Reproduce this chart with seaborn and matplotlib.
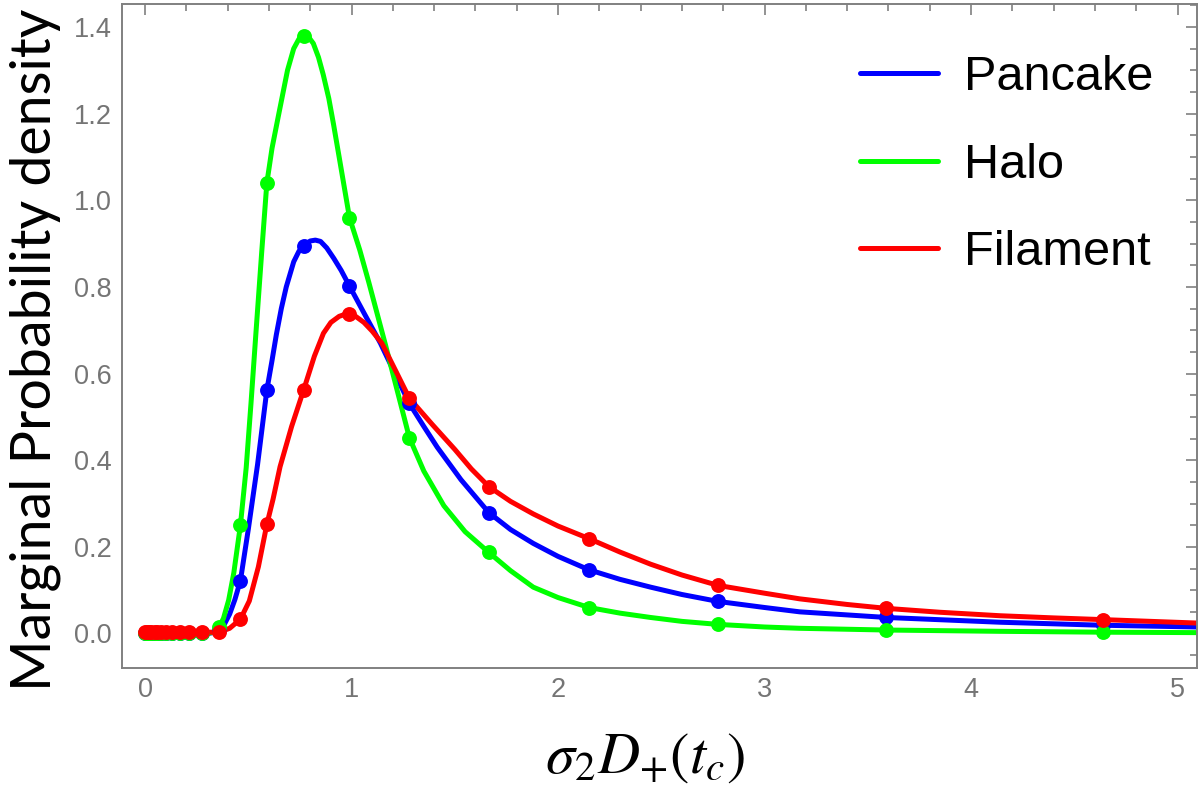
import numpy as np
import pandas as pd
import matplotlib
matplotlib.use("Agg")
import matplotlib.pyplot as plt
import seaborn as sns
from matplotlib.ticker import MultipleLocator

dot_x = [0.0, 0.01, 0.02, 0.03, 0.046, 0.06, 0.077, 0.1, 0.129, 0.167, 0.215, 0.278,
         0.359, 0.462, 0.59, 0.768, 0.99, 1.28, 1.665, 2.15, 2.775, 3.59, 4.64]
pancake_dots = [0, 0, 0, 0, 0, 0, 0, 0, 0, 0, 0, 0,
                0.008, 0.122, 0.562, 0.895, 0.802, 0.531, 0.279, 0.147, 0.074, 0.037, 0.019]
halo_dots = [0, 0, 0, 0, 0, 0, 0, 0, 0, 0, 0, 0,
             0.015, 0.25, 1.04, 1.38, 0.96, 0.452, 0.187, 0.060, 0.021, 0.009, 0.003]
filament_dots = [0.003, 0.003, 0.003, 0.003, 0.003, 0.003, 0.003, 0.003, 0.003, 0.003, 0.003, 0.003,
                 0.003, 0.033, 0.252, 0.562, 0.737, 0.543, 0.339, 0.219, 0.111, 0.058, 0.032]

# Curvas suaves
pancake_x = [0, 0.3, 0.33, 0.359, 0.385, 0.41, 0.435, 0.462, 0.5, 0.545, 0.59, 0.615, 0.636,
             0.66, 0.684, 0.72, 0.745, 0.768, 0.8, 0.825, 0.85, 0.88, 0.914, 0.95, 0.99,
             1.06, 1.14, 1.21, 1.28, 1.35, 1.415, 1.53, 1.665, 1.77, 1.88, 2.0, 2.15,
             2.3, 2.448, 2.6, 2.775, 3.0, 3.17, 3.59, 4.14, 4.64, 5.1]
pancake_y = [0, 0, 0.002, 0.008, 0.022, 0.045, 0.078, 0.122, 0.24, 0.39, 0.562, 0.63, 0.69,
             0.75, 0.80, 0.858, 0.882, 0.895, 0.906, 0.908, 0.905, 0.89, 0.866, 0.838, 0.802,
             0.74, 0.67, 0.60, 0.531, 0.478, 0.43, 0.355, 0.279, 0.24, 0.208, 0.178, 0.147,
             0.125, 0.107, 0.09, 0.074, 0.06, 0.05, 0.037, 0.026, 0.019, 0.015]

halo_x = [0, 0.3, 0.34, 0.359, 0.38, 0.405, 0.43, 0.462, 0.49, 0.513, 0.537, 0.565, 0.59,
          0.615, 0.646, 0.69, 0.72, 0.745, 0.768, 0.79, 0.815, 0.84, 0.863, 0.89, 0.913,
          0.94, 0.965, 0.99, 1.04, 1.084, 1.165, 1.246, 1.28, 1.35, 1.447, 1.55, 1.665,
          1.77, 1.88, 2.0, 2.15, 2.3, 2.448, 2.6, 2.775, 3.0, 3.17, 3.59, 4.14, 4.64, 5.1]
halo_y = [0, 0, 0.004, 0.015, 0.035, 0.077, 0.14, 0.25, 0.383, 0.53, 0.693, 0.88, 1.04,
          1.12, 1.195, 1.30, 1.35, 1.372, 1.38, 1.378, 1.362, 1.33, 1.29, 1.235, 1.175,
          1.10, 1.03, 0.96, 0.885, 0.81, 0.665, 0.515, 0.452, 0.375, 0.295, 0.235, 0.187,
          0.145, 0.107, 0.083, 0.060, 0.047, 0.037, 0.028, 0.021, 0.015, 0.012, 0.008,
          0.005, 0.003, 0.002]

filament_x = [0, 0.278, 0.359, 0.41, 0.462, 0.505, 0.549, 0.59, 0.62, 0.654, 0.71, 0.768,
              0.82, 0.864, 0.9, 0.94, 0.97, 0.99, 1.02, 1.06, 1.1, 1.147, 1.21, 1.28, 1.39,
              1.5, 1.58, 1.665, 1.77, 1.88, 2.0, 2.15, 2.3, 2.448, 2.6, 2.775, 3.0, 3.17,
              3.4, 3.59, 3.85, 4.14, 4.4, 4.64, 5.1]
filament_y = [0.003, 0.003, 0.003, 0.012, 0.033, 0.075, 0.154, 0.252, 0.31, 0.385, 0.478, 0.562,
              0.64, 0.693, 0.718, 0.732, 0.737, 0.737, 0.732, 0.718, 0.698, 0.67, 0.61, 0.543,
              0.483, 0.425, 0.38, 0.339, 0.305, 0.276, 0.248, 0.219, 0.188, 0.16, 0.135, 0.111,
              0.093, 0.080, 0.067, 0.058, 0.049, 0.041, 0.036, 0.032, 0.024]

names = ['Pancake', 'Halo', 'Filament']
colores = {'Pancake': '#0000ff', 'Halo': '#00ff00', 'Filament': '#ff0000'}

curvas = pd.concat([
    pd.DataFrame({'x': pancake_x, 'y': pancake_y, 'tipo': 'Pancake'}),
    pd.DataFrame({'x': halo_x, 'y': halo_y, 'tipo': 'Halo'}),
    pd.DataFrame({'x': filament_x, 'y': filament_y, 'tipo': 'Filament'}),
])
puntos = pd.concat([
    pd.DataFrame({'x': dot_x, 'y': pancake_dots, 'tipo': 'Pancake'}),
    pd.DataFrame({'x': dot_x, 'y': halo_dots, 'tipo': 'Halo'}),
    pd.DataFrame({'x': dot_x, 'y': filament_dots, 'tipo': 'Filament'}),
])

sns.set_style("white")
plt.rcParams['font.family'] = ['Liberation Sans', 'DejaVu Sans']
plt.rcParams['mathtext.fontset'] = 'stix'

fig = plt.figure(figsize=(12, 7.85), dpi=100)
ax = fig.add_axes([0.1014, 0.1494, 0.8959, 0.8455])

for n in names:
    c = curvas[curvas['tipo'] == n]
    p = puntos[puntos['tipo'] == n]
    sns.lineplot(data=c, x='x', y='y', color=colores[n], linewidth=3.6, label=n,
                 sort=False, ax=ax, zorder=2)
    sns.scatterplot(data=p, x='x', y='y', color=colores[n], s=115, linewidth=0,
                    ax=ax, zorder=3, legend=False)

ax.set_xlim(-0.113, 5.093)
ax.set_ylim(-0.079, 1.453)
ax.xaxis.set_major_locator(MultipleLocator(1))
ax.xaxis.set_minor_locator(MultipleLocator(0.2))
ax.yaxis.set_minor_locator(MultipleLocator(0.05))
ax.set_yticks(np.arange(0, 1.41, 0.2))
ax.set_yticklabels(['0.0', '0.2', '0.4', '0.6', '0.8', '1.0', '1.2', '1.4'])

gris = '#808080'
for s in ax.spines.values():
    s.set_color(gris)
    s.set_linewidth(1.4)
ax.tick_params(which='both', direction='in', top=True, right=True, color=gris,
               width=1.2, labelcolor='#757575', labelsize=19.5)
ax.tick_params(which='major', length=8, pad=7)
ax.tick_params(which='minor', length=5)

ax.set_xlabel(r'$\sigma_2 D_{+}(t_c)$', fontsize=42, color='black')
ax.xaxis.set_label_coords(0.4865, -0.095)
ax.set_ylabel('Marginal Probability density', fontsize=40, color='black',
              family=['Lato', 'DejaVu Sans'])
ax.yaxis.set_label_coords(-0.056, 0.479)

leg = ax.legend(loc='upper left', bbox_to_anchor=(0.68, 0.986), bbox_transform=fig.transFigure,
                frameon=False, fontsize=35, handlelength=1.6, handletextpad=0.55,
                labelspacing=0.88, borderpad=0.4)
for t in leg.get_texts():
    t.set_color('black')

fig.savefig('out.png', dpi=100)
